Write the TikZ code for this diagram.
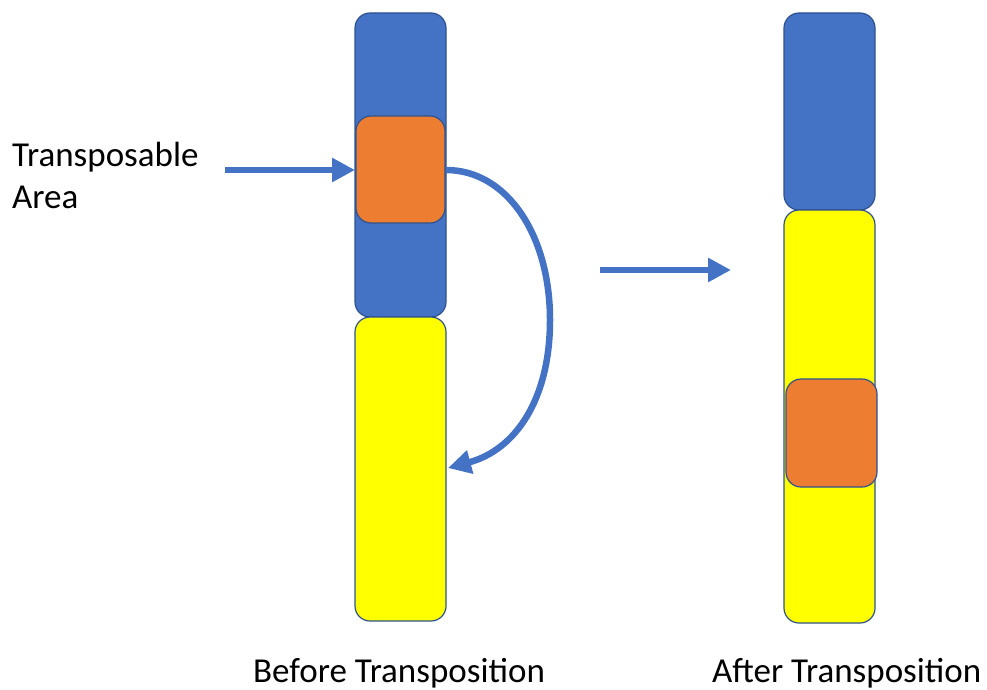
\documentclass[tikz,border=0pt]{standalone}
\usepackage{fontspec}
\setmainfont{Carlito}
\usetikzlibrary{arrows.meta}
\definecolor{cblue}{HTML}{4472C4}
\definecolor{cedge}{HTML}{2F528F}
\definecolor{corange}{HTML}{ED7D31}
\definecolor{cyellow}{HTML}{FFFF00}
\tikzset{
  seg/.style={draw=cedge, line width=1.2pt, rounded corners=15pt},
  bluebox/.style={seg, fill=cblue},
  yellowbox/.style={seg, fill=cyellow},
  orangebox/.style={seg, fill=corange},
  bigarrow/.style={draw=cblue, line width=6.5pt, -{Triangle[length=23pt,width=23pt]}},
  lbl/.style={font=\fontsize{35}{42}\selectfont, inner sep=0pt, anchor=base west}
}
\begin{document}
\begin{tikzpicture}[x=1pt,y=-1pt]
\useasboundingbox (0,0) rectangle (987,690);
% left chromosome
\draw[bluebox] (355,13) rectangle (446,317);
\draw[yellowbox] (355,317) rectangle (446,621);
\draw[orangebox] (356,116) rectangle (445,223);
\coordinate (lo-w) at (355,170);
\coordinate (lo-e) at (446,170);
\coordinate (ly-e) at (448,468);
% right chromosome
\draw[bluebox] (784,13) rectangle (875,210);
\draw[yellowbox] (784,210) rectangle (875,623);
\draw[orangebox] (786,379) rectangle (877,487);
% labels
\node[lbl] (t1) at (12,166) {Transposable};
\node[lbl] (t2) at (12,208) {Area};
\node[lbl] (b) at (253,682) {Before Transposition};
\node[lbl] (a) at (712,682) {After Transposition};
% arrows
\coordinate (a1s) at (225,170);
\draw[bigarrow] (a1s) -- (lo-w);
\coordinate (a2s) at (600,270);
\coordinate (a2e) at (731,270);
\draw[bigarrow] (a2s) -- (a2e);
\draw[bigarrow] (lo-e) .. controls (507,170) and (550,235) .. (550,320)
  .. controls (550,400) and (515,450) .. (ly-e);
\end{tikzpicture}
\end{document}
